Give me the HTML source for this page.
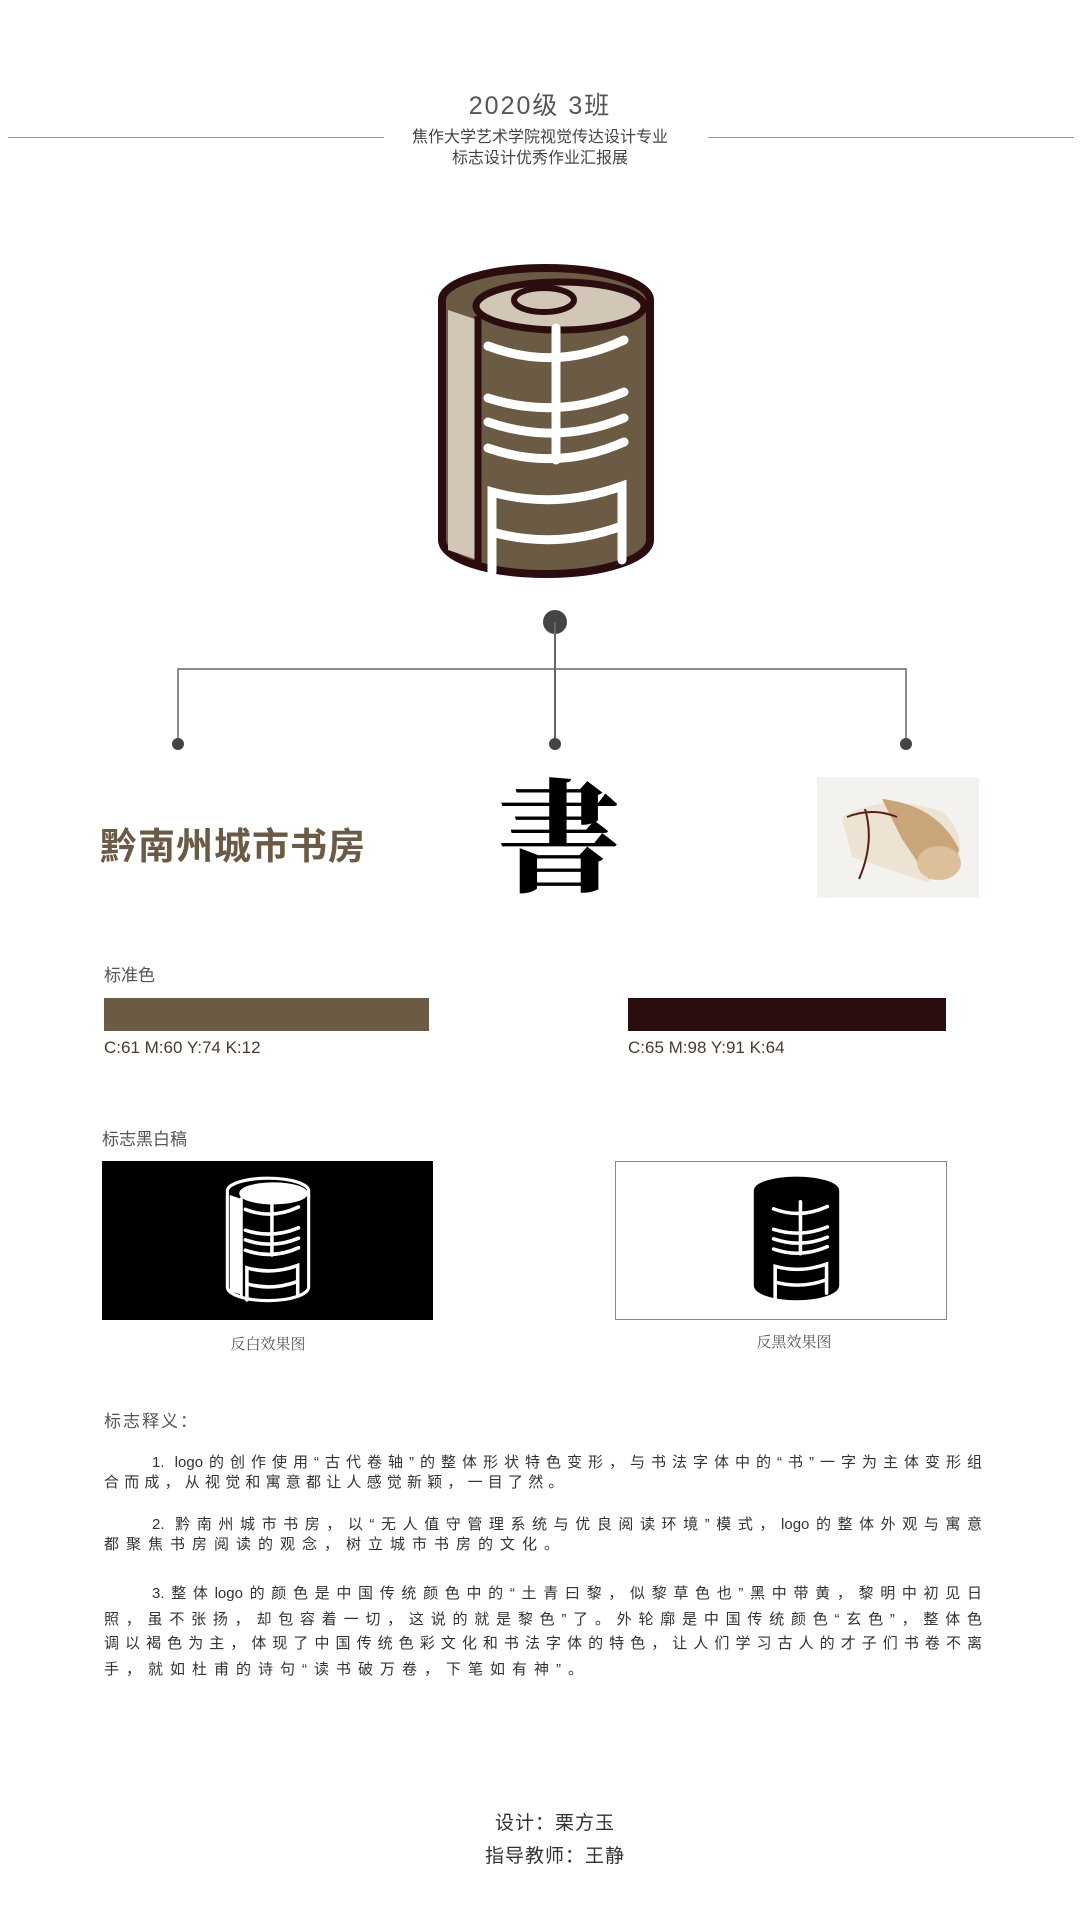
<!DOCTYPE html>
<html><head><meta charset="utf-8"><style>
body{margin:0;width:1080px;height:1920px;background:#fff;position:relative;font-family:"Liberation Sans","Noto Sans CJK SC",sans-serif;overflow:hidden}
.a{position:absolute}
.j{text-align:justify;text-align-last:justify;white-space:nowrap}
.p{position:absolute;left:104px;width:878px;font-size:15px;color:#333;line-height:20px}
</style></head><body>
<svg width="0" height="0" style="position:absolute"><defs>
<g id="logo">
<path d="M6,40 L6,280 A104,34 0 0 0 214,280 L214,40 A104,32 0 0 0 6,40 Z" fill="var(--b)" stroke="var(--o)" stroke-width="8"/>
<path d="M12,50 L42,60 L42,300 L12,290 Z" fill="var(--l)"/>
<ellipse cx="124" cy="46" rx="84" ry="24" fill="var(--l)" stroke="var(--o)" stroke-width="7"/>
<ellipse cx="108" cy="40" rx="30" ry="12" fill="var(--l)" stroke="var(--o)" stroke-width="6"/>
<line x1="42" y1="56" x2="42" y2="305" stroke="var(--o)" stroke-width="7"/>
<g stroke="var(--w)" stroke-width="9" fill="none" stroke-linecap="round">
<line x1="120" y1="68" x2="120" y2="200"/>
<path d="M52,86 Q120,112 188,80"/>
<path d="M52,138 Q120,160 188,132"/>
<path d="M52,162 Q120,186 188,158"/>
<path d="M52,188 Q120,212 188,182"/>
<path d="M56,312 L56,232 Q120,250 186,226 L186,300"/>
<path d="M56,272 Q120,290 186,266"/>
</g>
</g></defs></svg>

<div class="a" style="top:86px;left:0;width:1080px;text-align:center;font-size:25px;color:#555;letter-spacing:2px">2020级 3班</div>
<div class="a" style="left:8px;top:137px;width:376px;height:1px;background:#999"></div>
<div class="a" style="left:708px;top:137px;width:366px;height:1px;background:#999"></div>
<div class="a" style="top:127px;left:0;width:1080px;text-align:center;font-size:16px;color:#444;line-height:21px">焦作大学艺术学院视觉传达设计专业<br>标志设计优秀作业汇报展</div>

<svg class="a" style="left:436px;top:260px;--b:#6b5b45;--o:#2b0d10;--l:#d2c7b6;--w:#fff" width="220" height="320" viewBox="0 0 220 320"><use href="#logo"/></svg>

<svg class="a" style="left:0;top:0" width="1080" height="760">
<circle cx="555" cy="622" r="12" fill="#444"/>
<line x1="555" y1="622" x2="555" y2="744" stroke="#666" stroke-width="2"/>
<polyline points="178,744 178,669 906,669 906,744" fill="none" stroke="#666" stroke-width="1.5"/>
<circle cx="178" cy="744" r="6" fill="#444"/><circle cx="555" cy="744" r="6" fill="#444"/><circle cx="906" cy="744" r="6" fill="#444"/>
</svg>

<div class="a" style="left:100px;top:816px;font-size:37px;font-weight:bold;color:#6b5a45;letter-spacing:1px">黔南州城市书房</div>
<div class="a" style="left:498px;top:760px;font-size:122px;line-height:140px;font-family:'Noto Serif CJK SC',serif;font-weight:900;color:#000">書</div>
<svg class="a" style="left:817px;top:777px" width="162" height="121" viewBox="0 0 162 121">
<rect width="162" height="121" fill="#f4f2ef"/>
<path d="M25,40 Q70,15 125,35 Q150,55 140,90 L110,105 L35,80 Z" fill="#ece3d2"/>
<path d="M65,22 Q120,28 142,72 Q138,95 112,102 L85,62 Z" fill="#caa57a"/>
<ellipse cx="122" cy="86" rx="22" ry="17" fill="#dcc09a"/>
<path d="M30,40 Q55,30 80,40 M48,32 Q58,65 42,102" stroke="#5a1e1a" stroke-width="2" fill="none"/>
</svg>

<div class="a" style="left:104px;top:961px;font-size:17px;color:#555">标准色</div>
<div class="a" style="left:104px;top:998px;width:325px;height:33px;background:#6b5b45"></div>
<div class="a" style="left:628px;top:998px;width:318px;height:33px;background:#2b0d10"></div>
<div class="a" style="left:104px;top:1038px;font-size:17px;color:#4a3a2a">C:61 M:60 Y:74 K:12</div>
<div class="a" style="left:628px;top:1038px;font-size:17px;color:#4a3a2a">C:65 M:98 Y:91 K:64</div>

<div class="a" style="left:102px;top:1125px;font-size:17px;color:#555">标志黑白稿</div>
<div class="a" style="left:102px;top:1161px;width:331px;height:159px;background:#000"></div>
<svg class="a" style="left:225px;top:1175px;--b:#000;--o:#fff;--l:#fff;--w:#fff" width="86" height="128" viewBox="0 0 220 320" preserveAspectRatio="none"><use href="#logo"/></svg>
<div class="a" style="left:615px;top:1161px;width:330px;height:157px;border:1.5px solid #888"></div>
<svg class="a" style="left:753px;top:1175px;--b:#000;--o:#000;--l:#000;--w:#fff" width="87" height="126" viewBox="0 0 220 320" preserveAspectRatio="none"><use href="#logo"/></svg>
<div class="a" style="left:168px;top:1333px;width:200px;text-align:center;font-size:15px;color:#555;font-family:'Noto Serif CJK SC',serif">反白效果图</div>
<div class="a" style="left:694px;top:1331px;width:200px;text-align:center;font-size:15px;color:#555;font-family:'Noto Serif CJK SC',serif">反黑效果图</div>

<div class="a" style="left:104px;top:1407px;font-size:17px;color:#555;letter-spacing:2px">标志释义：</div>
<div class="p j" style="top:1453px;padding-left:48px;width:830px">1. logo的创作使用“古代卷轴”的整体形状特色变形，与书法字体中的“书”一字为主体变形组</div>
<div class="p" style="top:1473px;letter-spacing:5.2px">合而成，从视觉和寓意都让人感觉新颖，一目了然。</div>
<div class="p j" style="top:1515px;padding-left:48px;width:830px">2. 黔南州城市书房，以“无人值守管理系统与优良阅读环境”模式，logo的整体外观与寓意</div>
<div class="p" style="top:1535px;letter-spacing:7px">都聚焦书房阅读的观念，树立城市书房的文化。</div>
<div class="p j" style="top:1584px;padding-left:48px;width:830px">3.整体logo的颜色是中国传统颜色中的“土青曰黎，似黎草色也”黑中带黄，黎明中初见日</div>
<div class="p j" style="top:1610px">照，虽不张扬，却包容着一切，这说的就是黎色”了。外轮廓是中国传统颜色“玄色”，整体色</div>
<div class="p j" style="top:1634px">调以褐色为主，体现了中国传统色彩文化和书法字体的特色，让人们学习古人的才子们书卷不离</div>
<div class="p" style="top:1660px;letter-spacing:7px">手，就如杜甫的诗句“读书破万卷，下笔如有神”。</div>

<div class="a" style="top:1808px;left:0;width:1110px;text-align:center;font-size:19px;color:#333;letter-spacing:1px">设计：栗方玉</div>
<div class="a" style="top:1841px;left:0;width:1110px;text-align:center;font-size:19px;color:#333;letter-spacing:1px">指导教师：王静</div>
</body></html>
